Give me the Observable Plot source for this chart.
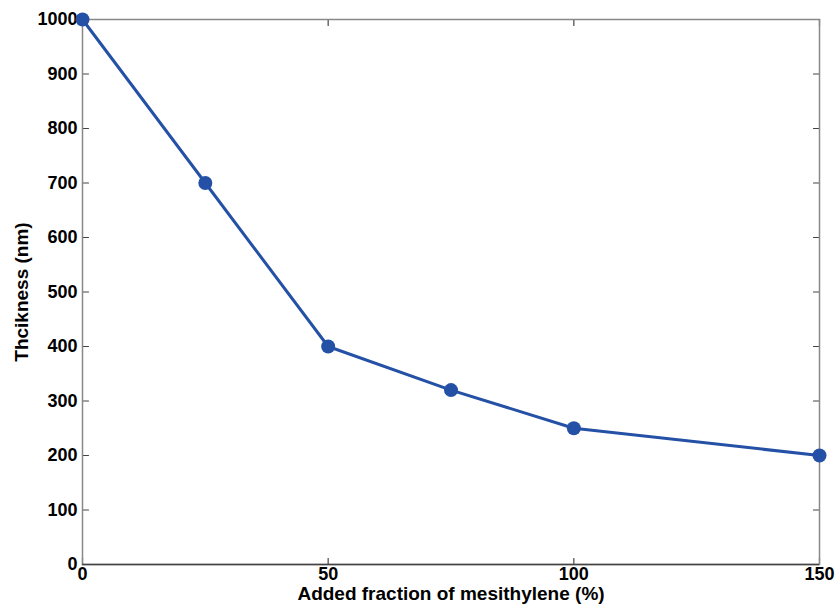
<!DOCTYPE html>
<html>
<head>
<meta charset="utf-8">
<script src="https://cdn.jsdelivr.net/npm/d3@7"></script>
<script src="https://cdn.jsdelivr.net/npm/@observablehq/plot@0.6"></script>
<style>
  html, body { margin: 0; padding: 0; background: #fff; }
  svg { display: block; }
</style>
</head>
<body>
<div id="chart"></div>
<script>
const fraction = [0, 25, 50, 75, 100, 150];
const thickness = [1000, 700, 400, 320, 250, 200];
const xTicks = [0, 50, 100, 150];
const yTicks = [0, 100, 200, 300, 400, 500, 600, 700, 800, 900, 1000];
const xLabel = "Added fraction of mesithylene (%)";
const yLabel = "Thcikness (nm)";

const data = fraction.map((f, i) => ({f, t: thickness[i]}));
const lineColor = "#2451a6";
const tickShape = {draw(ctx, l) { ctx.moveTo(0, 0); ctx.lineTo(0, -l); }};
const font = "'Liberation Sans', Arial, sans-serif";
const fs = 18;
const fl = 19;

const chart = Plot.plot({
  width: 837,
  height: 610,
  marginLeft: 82,
  marginRight: 18,
  marginTop: 19,
  marginBottom: 46,
  style: {fontFamily: font, fontSize: fs + "px", fontWeight: "bold", color: "#000", background: "#fff"},
  x: {domain: [0, 150]},
  y: {domain: [0, 1000]},
  marks: [
    Plot.axisX(xTicks, {tickSize: 0, tickPadding: 3, label: null, tickFormat: d => String(d), fontWeight: "bold", fontSize: fs, fill: "#000"}),
    Plot.axisY(yTicks, {tickSize: 0, tickPadding: 5, label: null, tickFormat: d => String(d), fontWeight: "bold", fontSize: fs, fill: "#000"}),
    // inward ticks on all four sides
    Plot.vector(xTicks, {x: d => d, frameAnchor: "bottom", rotate: 0, length: 6, anchor: "start", shape: tickShape, stroke: "#444", strokeWidth: 1.2}),
    Plot.vector(xTicks, {x: d => d, frameAnchor: "top", rotate: 180, length: 6, anchor: "start", shape: tickShape, stroke: "#444", strokeWidth: 1.2}),
    Plot.vector(yTicks, {y: d => d, frameAnchor: "left", rotate: 90, length: 6, anchor: "start", shape: tickShape, stroke: "#444", strokeWidth: 1.2}),
    Plot.vector(yTicks, {y: d => d, frameAnchor: "right", rotate: -90, length: 6, anchor: "start", shape: tickShape, stroke: "#444", strokeWidth: 1.2}),
    Plot.frame({stroke: "#888", strokeWidth: 1.5}),
    Plot.ruleY([0], {stroke: "#444", strokeWidth: 1.5}),
    Plot.line(data, {x: "f", y: "t", stroke: lineColor, strokeWidth: 3}),
    Plot.dot(data, {x: "f", y: "t", r: 7, fill: lineColor, stroke: "none"}),
    Plot.text([xLabel], {text: d => d, frameAnchor: "bottom", textAnchor: "middle", dy: 35, fontSize: fl, fontWeight: "bold", fill: "#000"}),
    Plot.text([yLabel], {text: d => d, frameAnchor: "left", textAnchor: "middle", dx: -61, rotate: -90, fontSize: fl, fontWeight: "bold", fill: "#000"})
  ]
});
document.getElementById("chart").appendChild(chart);
</script>
</body>
</html>
